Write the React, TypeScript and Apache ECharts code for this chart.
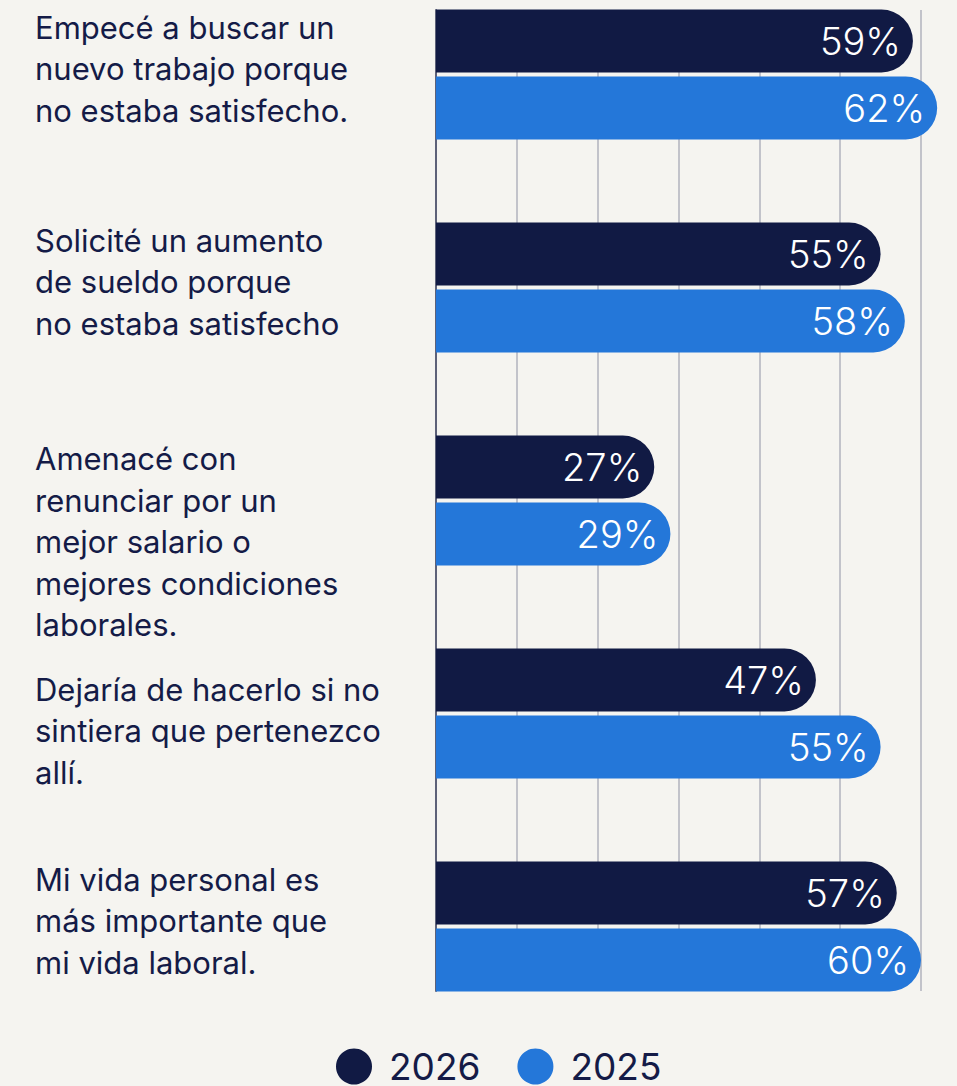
import React, { useEffect, useRef } from "react";
import * as echarts from "echarts";

const categories = [
  "Empecé a buscar un\nnuevo trabajo porque\nno estaba satisfecho.",
  "Solicité un aumento\nde sueldo porque\nno estaba satisfecho",
  "Amenacé con\nrenunciar por un\nmejor salario o\nmejores condiciones\nlaborales.",
  "Dejaría de hacerlo si no\nsintiera que pertenezco\nallí.",
  "Mi vida personal es\nmás importante que\nmi vida laboral.",
];
const seriesNames = ["2026", "2025"];
const values2026 = [59, 55, 27, 47, 57];
const values2025 = [62, 58, 29, 55, 60];
const axisMin = 0;
const axisMax = 60;
const axisStep = 10;

const NAVY = "#111a44";
const BLUE = "#2477d9";
const TEXT = "#141b47";
const FONT = "Inter, 'Noto Sans', sans-serif";

// layout: per-category spacer (positive = space above, negative = space below)
const labelSpacers = [-12, -12, 82, 34, -12];

export default function App() {
  const ref = useRef<HTMLDivElement>(null);
  useEffect(() => {
    document.body.style.margin = "0";
    document.body.style.background = "#f5f4f0";
    const chart = echarts.init(ref.current!, null, { renderer: "svg" });
    const barStyle = (color: string) => ({
      color,
      borderRadius: [0, 32, 32, 0],
    });
    const valueLabel = {
      show: true,
      position: "insideRight",
      distance: 12,
      color: "#ffffff",
      fontFamily: FONT,
      fontSize: 38,
      fontWeight: 300,
      formatter: (p: any) => p.value + "%",
    };
    const rich: Record<string, any> = {};
    labelSpacers.forEach((s) => {
      rich["sp" + Math.abs(s)] = { lineHeight: Math.abs(s), fontSize: 2 };
    });
    chart.setOption({
      animation: false,
      backgroundColor: "#f5f4f0",
      grid: [
        { left: 436, right: 36, top: 10, height: 981, outerBoundsMode: "none", containLabel: false },
        { left: 436, right: 36, top: -32, height: 1065, outerBoundsMode: "none", containLabel: false },
      ],
      xAxis: [
        {
          gridIndex: 0,
          type: "value",
          min: axisMin,
          max: axisMax,
          interval: axisStep,
          axisLabel: { show: false },
          axisTick: { show: false },
          axisLine: { show: false },
          splitLine: { show: true, lineStyle: { color: "#c2c3ca", width: 2 } },
        },
        {
          gridIndex: 1,
          type: "value",
          min: axisMin,
          max: axisMax,
          show: false,
          splitLine: { show: false },
        },
      ],
      yAxis: [
        {
          gridIndex: 0,
          type: "category",
          data: categories,
          axisLabel: { show: false },
          axisTick: { show: false },
          axisLine: { show: true, lineStyle: { color: "#5d6178", width: 2 } },
          splitLine: { show: false },
        },
        {
          gridIndex: 1,
          type: "category",
          inverse: true,
          data: categories,
          axisTick: { show: false },
          axisLine: { show: false },
          axisLabel: {
            show: true,
            margin: 401,
            align: "left",
            color: TEXT,
            fontFamily: FONT,
            fontSize: 31,
            lineHeight: 41.5,
            rich,
            formatter: (v: string, i: number) => {
              const s = labelSpacers[i];
              const tag = "{sp" + Math.abs(s) + "| }";
              return s > 0 ? tag + "\n" + v : v + "\n" + tag;
            },
          },
        },
      ],
      legend: {
        data: seriesNames,
        left: 336,
        top: 1048,
        padding: 0,
        icon: "circle",
        itemWidth: 36,
        itemHeight: 36,
        itemGap: 37,
        textStyle: {
          color: TEXT,
          fontFamily: FONT,
          fontSize: 37,
          lineHeight: 34,
          padding: [0, 0, 0, 12],
        },
      },
      series: [
        {
          name: seriesNames[0],
          type: "bar",
          xAxisIndex: 1,
          yAxisIndex: 1,
          data: values2026,
          barWidth: 63,
          barGap: "6.35%",
          clip: false,
          itemStyle: barStyle(NAVY),
          label: valueLabel,
        },
        {
          name: seriesNames[1],
          type: "bar",
          xAxisIndex: 1,
          yAxisIndex: 1,
          data: values2025,
          barWidth: 63,
          barGap: "6.35%",
          clip: false,
          itemStyle: barStyle(BLUE),
          label: valueLabel,
        },
      ],
    });
    return () => chart.dispose();
  }, []);
  return <div ref={ref} style={{ width: 957, height: 1086 }} />;
}
